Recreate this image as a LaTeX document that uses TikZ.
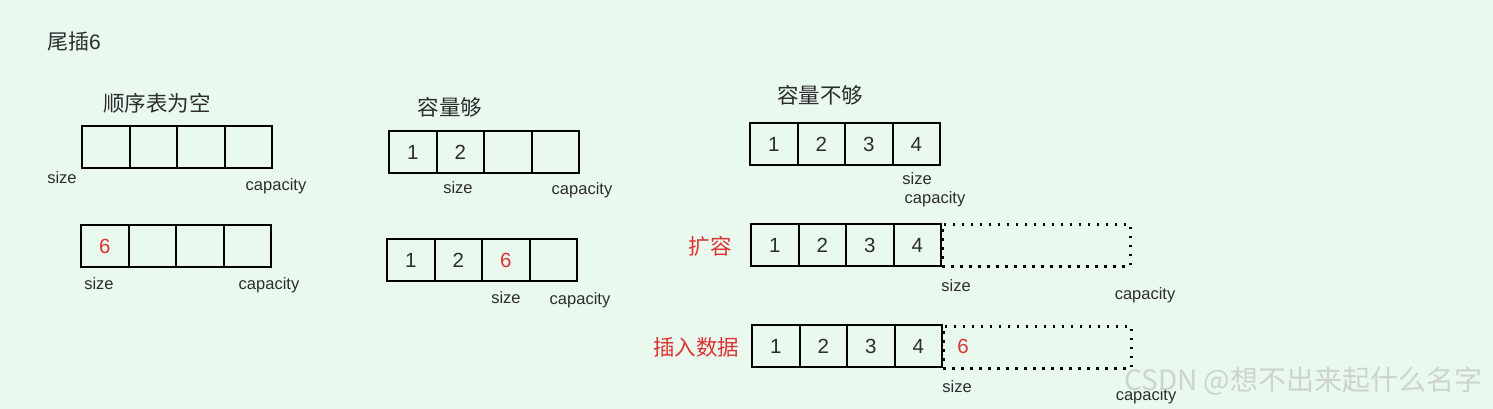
\documentclass[tikz,border=0pt]{standalone}
\usepackage{fontspec}
\setmainfont{Liberation Sans}
\newfontfamily\cjk{Noto Sans CJK SC}
\definecolor{bg}{RGB}{234,249,238}
\definecolor{txt}{RGB}{45,45,45}
\definecolor{myred}{RGB}{218,52,52}
\definecolor{wm}{RGB}{205,211,207}
\begin{document}
\begin{tikzpicture}[x=1pt,y=-1pt,
  cell/.style={draw=black,line width=2pt,minimum width=47.5pt,minimum height=42pt,inner sep=0pt,anchor=north west,text=txt,font=\fontsize{20.5}{20.5}\selectfont},
  dotbox/.style={draw=black,line width=2.6pt,dash pattern=on 2.6pt off 6.4pt,minimum width=188pt,minimum height=42pt,inner sep=0pt,anchor=north west},
  lbl/.style={text=txt,font=\fontsize{16.5}{16.5}\selectfont,inner sep=0pt},
  head/.style={text=txt,font=\cjk\fontsize{21.5}{21.5}\selectfont,inner sep=0pt},
  redtag/.style={text=myred,font=\cjk\fontsize{21.5}{21.5}\selectfont,inner sep=0pt},
  rednum/.style={text=myred}]
\useasboundingbox (0,0) rectangle (1493,409);
\fill[bg] (0,0) rectangle (1493,409);
% title
\node[text=txt,font=\fontsize{21}{21}\selectfont,inner sep=0pt,anchor=west] (title) at (47,42) {{\cjk 尾插}6};
% section 1
\node[head] (h1) at (157,103) {顺序表为空};
\foreach \i in {0,1,2,3} \node[cell] (a\i) at ({81+47.5*\i},125) {};
\node[lbl] (a-size) at (62,178) {size};
\node[lbl] (a-cap) at (276,186) {capacity};
\node[cell,rednum] (b0) at (80,224) {6};
\foreach \i in {1,2,3} \node[cell] (b\i) at ({80+47.5*\i},224) {};
\node[lbl] (b-size) at (99,284) {size};
\node[lbl] (b-cap) at (269,285) {capacity};
% section 2
\node[head] (h2) at (450,107) {容量够};
\node[cell] (c0) at (388,130) {1};
\node[cell] (c1) at (435.5,130) {2};
\node[cell] (c2) at (483,130) {};
\node[cell] (c3) at (530.5,130) {};
\node[lbl] (c-size) at (458,188) {size};
\node[lbl] (c-cap) at (582,190) {capacity};
\node[cell] (d0) at (386,238) {1};
\node[cell] (d1) at (433.5,238) {2};
\node[cell,rednum] (d2) at (481,238) {6};
\node[cell] (d3) at (528.5,238) {};
\node[lbl] (d-size) at (506,298) {size};
\node[lbl] (d-cap) at (580,300) {capacity};
% section 3
\node[head] (h3) at (820,95) {容量不够};
\foreach \i/\t in {0/1,1/2,2/3,3/4} \node[cell] (e\i) at ({749+47.5*\i},122) {\t};
\node[lbl] (e-size) at (917,179) {size};
\node[lbl] (e-cap) at (935,199) {capacity};
\node[redtag] (t1) at (710,246) {扩容};
\foreach \i/\t in {0/1,1/2,2/3,3/4} \node[cell] (f\i) at ({750+47.5*\i},223) {\t};
\node[dotbox] (fx) at (941,223) {};
\node[lbl] (f-size) at (956,286) {size};
\node[lbl] (f-cap) at (1145,295) {capacity};
\node[redtag] (t2) at (696,347) {插入数据};
\foreach \i/\t in {0/1,1/2,2/3,3/4} \node[cell] (g\i) at ({751+47.5*\i},324) {\t};
\node[dotbox] (gx) at (942,325) {};
\node[cell,draw=none,rednum,anchor=center] (g6) at (963,346) {6};
\node[lbl] (g-size) at (957,387) {size};
\node[lbl] (g-cap) at (1146,396) {capacity};
% watermark
\node[text=wm,font=\cjk\fontsize{28}{28}\selectfont,inner sep=0pt,anchor=west] (wmk) at (1124,381) {CSDN @想不出来起什么名字};
\end{tikzpicture}
\end{document}
